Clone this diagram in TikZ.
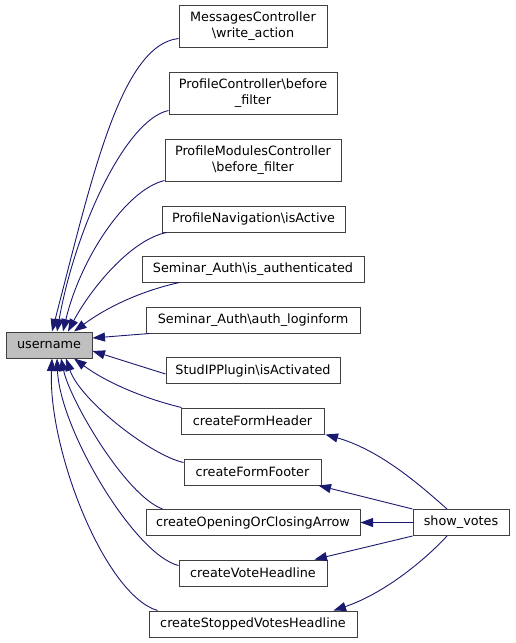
\documentclass[tikz,border=0pt]{standalone}
\usepackage{fontspec}
\setmainfont{DejaVu Sans}
\usetikzlibrary{arrows.meta}
\definecolor{edgeblue}{RGB}{25,25,112}
\definecolor{boxline}{RGB}{64,64,64}
\definecolor{userfill}{RGB}{191,191,191}
\tikzset{
  fn/.style={draw=boxline,line width=1pt,rectangle,inner sep=0pt,align=center,
    font=\fontsize{12.8}{16}\selectfont},
  edge/.style={draw=edgeblue,line width=0.9pt,-{Triangle[length=12.5pt,width=9pt]}},
}
\begin{document}
\begin{tikzpicture}[x=1pt,y=-1pt]
\useasboundingbox (0,0) rectangle (515,643);
\node[fn,minimum width=86,minimum height=26,fill=userfill] (user) at (49,345) {username};
\node[fn,minimum width=148,minimum height=42] (msg) at (253,26) {MessagesController\\\textbackslash write\_action};
\node[fn,minimum width=168,minimum height=42] (pc) at (253,93) {ProfileController\textbackslash before\\\_filter};
\node[fn,minimum width=176,minimum height=42] (pmc) at (253,160) {ProfileModulesController\\\textbackslash before\_filter};
\node[fn,minimum width=183,minimum height=26] (pnav) at (253.5,219) {ProfileNavigation\textbackslash isActive};
\node[fn,minimum width=222,minimum height=26] (sa1) at (253,269) {Seminar\_Auth\textbackslash is\_authenticated};
\node[fn,minimum width=214,minimum height=26] (sa2) at (253,320) {Seminar\_Auth\textbackslash auth\_loginform};
\node[fn,minimum width=174,minimum height=26] (stud) at (253,370.5) {StudIPPlugin\textbackslash isActivated};
\node[fn,minimum width=143,minimum height=26] (cfh) at (252.5,421) {createFormHeader};
\node[fn,minimum width=137,minimum height=26] (cff) at (252.5,472) {createFormFooter};
\node[fn,minimum width=214,minimum height=26] (cooca) at (253,522.5) {createOpeningOrClosingArrow};
\node[fn,minimum width=96,minimum height=26] (sv) at (461,522.5) {show\_votes};
\node[fn,minimum width=148,minimum height=26] (cvh) at (253,573) {createVoteHeadline};
\node[fn,minimum width=208,minimum height=26] (csvh) at (253,624) {createStoppedVotesHeadline};
% edges into username
\draw[edge] ([yshift=9pt]msg.south west) .. controls (120,45) and (91,182) .. ([xshift=3pt]user.north);
\draw[edge] ([yshift=4pt]pc.south west) .. controls (125,120) and (75,230) .. ([xshift=8pt]user.north);
\draw[edge] ([yshift=1pt]pmc.south west) .. controls (125,190) and (80,260) .. ([xshift=14pt]user.north);
\draw[edge] ([xshift=5pt]pnav.south west) .. controls (130,240) and (90,290) .. ([xshift=19pt]user.north);
\draw[edge] ([xshift=38pt]sa1.south west) .. controls (145,290) and (110,305) .. ([xshift=25pt]user.north);
\draw[edge] ([xshift=4pt]sa2.south west) -- ([yshift=7pt]user.east);
\draw[edge] ([yshift=10pt]stud.south west) -- ([yshift=-6pt]user.east);
\draw[edge] ([xshift=1pt]cfh.north west) .. controls (150,400) and (110,385) .. ([xshift=25pt]user.south);
\draw[edge] ([yshift=-4pt]cff.north west) .. controls (150,455) and (80,400) .. ([xshift=17pt]user.south);
\draw[edge] ([xshift=17pt]cooca.north west) .. controls (125,495) and (70,400) .. ([xshift=12pt]user.south);
\draw[edge] ([yshift=-6pt]cvh.north west) .. controls (135,555) and (60,430) .. ([xshift=8pt]user.south);
\draw[edge] ([xshift=9pt]csvh.north west) .. controls (105,595) and (48,450) .. ([xshift=3pt]user.south);
% edges from show_votes
\draw[edge] ([xshift=-14pt]sv.north) .. controls (420,485) and (380,450) .. ([xshift=1pt]cfh.south east);
\draw[edge] (sv.north west) -- ([xshift=-3pt]cff.south east);
\draw[edge] (sv.west) -- (cooca.east);
\draw[edge] (sv.south west) -- ([xshift=-13pt]cvh.north east);
\draw[edge] ([xshift=-14pt]sv.south) .. controls (420,565) and (380,595) .. ([xshift=-24pt]csvh.north east);
\end{tikzpicture}
\end{document}
